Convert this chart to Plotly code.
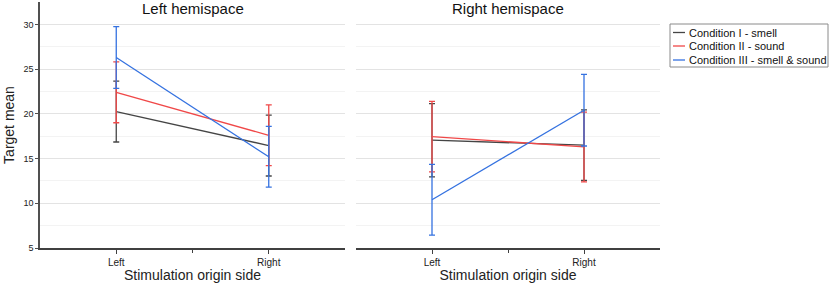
import plotly.graph_objects as go

# data
categories = ["Left", "Right"]
conditions = ["Condition I - smell", "Condition II - sound", "Condition III - smell & sound"]
colors = ["#454545", "#f04848", "#3572e0"]

# left hemispace: means and error (half CI) per condition, at Left / Right
left_means = [[20.25, 16.45], [22.4, 17.6], [26.3, 15.2]]
left_errs = [[3.4, 3.4], [3.4, 3.4], [3.45, 3.4]]

# right hemispace
right_means = [[17.05, 16.5], [17.45, 16.3], [10.4, 20.4]]
right_errs = [[4.1, 3.95], [3.95, 3.9], [3.95, 4.0]]

W, H = 829, 283
ML, MR, MT, MB = 40, 169, 2, 35
PW, PH = W - ML - MR, H - MT - MB


def px_x(px):
    return (px - ML) / PW


def px_y(py):
    return (H - MB - py) / PH


fig = go.Figure()
xs = list(range(len(categories)))

for i, name in enumerate(conditions):
    fig.add_trace(go.Scatter(
        x=xs, y=left_means[i], mode="lines", name=name,
        line=dict(color=colors[i], width=1.3),
        error_y=dict(type="data", array=left_errs[i], color=colors[i],
                     thickness=1.3, width=3),
        xaxis="x", yaxis="y", showlegend=False))
    fig.add_trace(go.Scatter(
        x=xs, y=right_means[i], mode="lines", name=name,
        line=dict(color=colors[i], width=1.3),
        error_y=dict(type="data", array=right_errs[i], color=colors[i],
                     thickness=1.3, width=3),
        xaxis="x2", yaxis="y2", showlegend=False))

xcommon = dict(
    range=[-0.5, 1.5], tickvals=xs, ticktext=categories,
    showline=True, linecolor="#404040", linewidth=1.5,
    ticks="outside", ticklen=4, tickcolor="#404040",
    minor=dict(tickvals=[0.5], ticks="outside", ticklen=3, tickcolor="#404040"),
    showgrid=False, zeroline=False,
    tickfont=dict(size=10, color="#222"),
    title=dict(text="Stimulation origin side", font=dict(size=14, color="#222"), standoff=4),
)
ycommon = dict(
    range=[5, 32.5], dtick=5, tick0=5,
    showgrid=True, gridcolor="#e3e3e3", gridwidth=1,
    minor=dict(dtick=2.5, showgrid=True, gridcolor="#f3f3f3", gridwidth=1),
    zeroline=False,
)

fig.update_layout(
    width=W, height=H,
    margin=dict(l=ML, r=MR, t=MT, b=MB),
    paper_bgcolor="white", plot_bgcolor="white",
    font=dict(family="Liberation Sans, Arial, sans-serif", color="#222"),
    xaxis=dict(domain=[0, px_x(345)], anchor="y", **xcommon),
    xaxis2=dict(domain=[px_x(356), 1], anchor="y2", **xcommon),
    yaxis=dict(anchor="x", showline=True, linecolor="#505050", linewidth=1.5,
               ticks="outside", ticklen=3, tickcolor="#505050",
               tickfont=dict(size=9, color="#222"),
               title=dict(text="Target mean", font=dict(size=14, color="#222"), standoff=6),
               **ycommon),
    yaxis2=dict(anchor="x2", matches="y", showticklabels=False, showline=False,
                **ycommon),
    showlegend=False,
)

# panel titles
fig.add_annotation(text="Left hemispace", x=px_x(193), y=px_y(8), xref="paper", yref="paper",
                   showarrow=False, font=dict(size=15, color="#111"),
                   xanchor="center", yanchor="middle")
fig.add_annotation(text="Right hemispace", x=px_x(508), y=px_y(8), xref="paper", yref="paper",
                   showarrow=False, font=dict(size=15, color="#111"),
                   xanchor="center", yanchor="middle")

# legend box drawn by hand so the sample lines stay short like the original
fig.add_shape(type="rect", xref="paper", yref="paper",
              x0=px_x(670), x1=px_x(828), y0=px_y(67), y1=px_y(24),
              line=dict(color="#8a8a8a", width=1), fillcolor="white")
row_y = [32.5, 46, 60]
for i, name in enumerate(conditions):
    fig.add_shape(type="line", xref="paper", yref="paper",
                  x0=px_x(673), x1=px_x(685), y0=px_y(row_y[i]), y1=px_y(row_y[i]),
                  line=dict(color=colors[i], width=1.3))
    fig.add_annotation(text=name, x=px_x(687), y=px_y(row_y[i]), xref="paper", yref="paper",
                       showarrow=False, xanchor="left", yanchor="middle",
                       font=dict(size=11, color="#111"))

# drop the page margin so the figure sits at the window's top-left corner
fig.write_html("out.html", config={"displayModeBar": False},
               post_script="document.body.style.margin='0';document.body.style.overflow='hidden';")
